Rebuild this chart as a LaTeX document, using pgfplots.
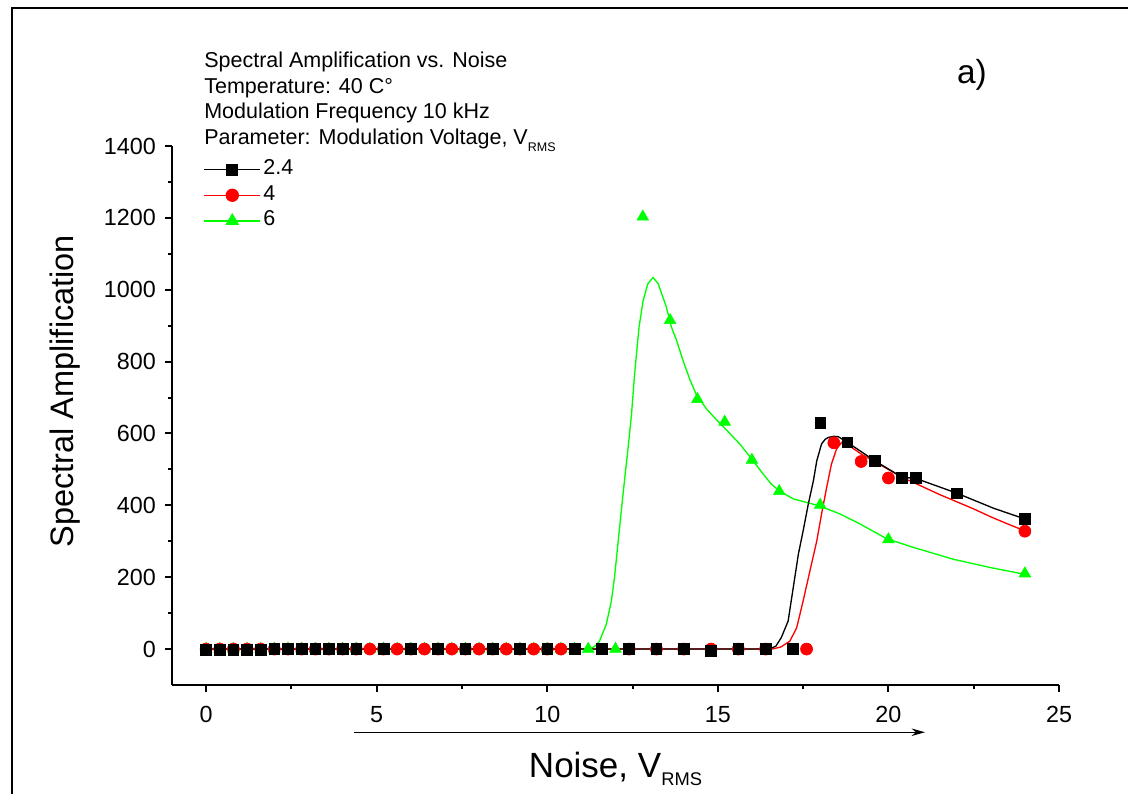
\documentclass[border=0pt]{standalone}
\usepackage{fontspec}
\setmainfont{Liberation Sans}
\usepackage{pgfplots}
\pgfplotsset{compat=1.18}
\usetikzlibrary{arrows.meta}
\definecolor{pgreen}{RGB}{0,255,0}
\definecolor{pred}{RGB}{255,0,0}
\begin{document}
\begin{tikzpicture}
\useasboundingbox (0pt,0pt) rectangle (676.8pt,476.4pt);
\draw[line width=1.2pt] (7.2pt,0pt) -- (7.2pt,471.6pt) -- (676.8pt,471.6pt);
\begin{axis}[
  at={(103.2pt,65.4pt)}, anchor=south west,
  scale only axis, width=532.2pt, height=323.4pt,
  xmin=-1, xmax=25, ymin=-100, ymax=1400,
  axis lines*=left,
  axis line style={line width=1.2pt},
  xtick={0,5,...,25}, minor x tick num=1,
  ytick={0,200,...,1400}, minor y tick num=1,
  tick align=outside,
  major tick length=4.2pt, minor tick length=2.4pt,
  every tick/.style={line width=1.2pt, black},
  /pgf/number format/assume math mode=true,
  /pgf/number format/1000 sep={},
  ticklabel style={font=\fontsize{14}{16}\selectfont},
  xticklabel style={yshift=-5pt},
  yticklabel style={xshift=-2pt},
  clip=false,
  xlabel={Noise, V\raisebox{-0.45ex}{\fontsize{11}{12}\selectfont RMS}},
  xlabel style={font=\fontsize{21}{24}\selectfont, at={(axis description cs:0.5,-0.1707)}, anchor=base},
  ylabel={Spectral Amplification},
  ylabel style={font=\fontsize{19.5}{22}\selectfont, at={(axis description cs:-0.1116,0.545)}, anchor=base},
  legend image code/.code={\draw[mark repeat=2,mark phase=2,#1] plot coordinates {(0pt,0pt) (16.8pt,0pt) (33.6pt,0pt)};},
  legend style={draw=none, fill=none, at={(axis description cs:0.0353,0.980)}, anchor=north west,
    font=\fontsize{12.9}{15}\selectfont, inner sep=0pt, row sep=0.4pt,
    nodes={inner sep=1.5pt, text height=9pt, text depth=3pt}},
  legend cell align=left,
]
\addlegendimage{black, line width=0.8pt, mark=square*, mark size=3.2pt, mark options={solid}}
\addlegendimage{pred, line width=0.8pt, mark=*, mark size=3.6pt, mark options={solid, fill=pred}}
\addlegendimage{pgreen, line width=0.8pt, mark=triangle*, mark size=4pt, mark options={solid, fill=pgreen}}
\legend{2.4,4,6}
% fitted curves
\addplot[forget plot, pgreen, line width=0.8pt] coordinates {
(0,0)(11.24,0)(11.4,8)(11.53,22)(11.73,69)(11.88,134)(11.97,199)(12.07,292)(12.17,385)(12.27,475)(12.37,561)(12.47,654)(12.56,766)(12.69,896)(12.81,970)(12.95,1017)(13.1,1034)(13.25,1017)(13.49,952)(13.64,896)(13.79,859)(13.98,803)(14.18,750)(14.37,708)(14.67,668)(14.96,638)(15.25,610)(15.65,570)(16.0,528)(16.33,487)(16.55,461)(16.77,442)(17.21,418)(17.96,399)(18.58,376)(19.17,348)(19.95,307)(20.73,283)(21.9,250)(22.98,227)(24,208)};
\addplot[forget plot, pred, line width=0.8pt] coordinates {
(0,0)(16.6,0)(16.85,6)(17.11,22)(17.31,59)(17.5,134)(17.7,218)(17.9,301)(18.04,376)(18.19,450)(18.33,515)(18.48,557)(18.63,575)(18.77,571)(19.2,543)(19.6,521)(20.0,500)(20.4,478)(21.0,452)(21.5,430)(22.0,410)(22.5,390)(23.0,368)(23.5,348)(24.0,329)};
\addplot[forget plot, black, line width=0.8pt] coordinates {
(0,0)(16.5,0)(16.7,8)(16.86,32)(17.06,78)(17.21,171)(17.36,264)(17.5,329)(17.65,403)(17.8,468)(17.9,524)(18.04,571)(18.15,584)(18.24,589)(18.4,592)(18.53,591)(18.8,575)(19.6,524)(20.4,478)(20.8,475)(22.0,434)(23.08,392)(24,362)};
% measured points
\addplot[forget plot, only marks, mark=triangle*, mark size=4pt, draw=pgreen, fill=pgreen] coordinates {
(0,0)(0.4,0)(0.8,0)(1.2,0)(1.6,0)(2.0,0)(2.4,0)(2.8,0)(3.2,0)(3.6,0)(4.0,0)(4.4,0)(4.8,0)(5.2,0)(5.6,0)(6.0,0)(6.4,0)(6.8,0)(7.2,0)(7.6,0)(8.0,0)(8.4,0)(8.8,0)(9.2,0)(9.6,0)(10.0,0)(10.4,0)(10.8,0)(11.2,0)(12.0,0)(12.8,1203)(13.6,915)(14.4,695)(15.2,632)(16.0,526)(16.8,439)(18.0,401)(20.0,305)(24.0,210)};
\addplot[forget plot, only marks, mark=*, mark size=3.6pt, draw=pred, fill=pred] coordinates {
(0,0)(0.4,0)(0.8,0)(1.2,0)(1.6,0)(2.0,0)(2.4,0)(2.8,0)(3.2,0)(3.6,0)(4.0,0)(4.4,0)(4.8,0)(5.2,0)(5.6,0)(6.0,0)(6.4,0)(6.8,0)(7.2,0)(7.6,0)(8.0,0)(8.4,0)(8.8,0)(9.2,0)(9.6,0)(10.0,0)(10.4,0)(12.4,0)(13.2,0)(14.0,0)(14.8,0)(15.6,0)(16.4,0)(17.6,0)(18.4,574)(19.2,522)(20.0,476)(24.0,328)};
\addplot[forget plot, only marks, mark=square*, mark size=3.2pt, draw=black, fill=black] coordinates {
(0,-3)(0.4,-3)(0.8,-3)(1.2,-3)(1.6,-3)(2.0,0)(2.4,0)(2.8,0)(3.2,0)(3.6,0)(4.0,0)(4.4,0)(5.2,0)(6.0,0)(6.8,0)(7.6,0)(8.4,0)(9.2,0)(10.0,0)(10.8,0)(11.6,0)(12.4,0)(13.2,0)(14.0,0)(14.8,-5)(15.6,0)(16.4,0)(17.2,0)(18.0,629)(18.8,575)(19.6,523)(20.4,477)(20.8,477)(22.0,433)(24.0,362)};
\draw[line width=0.7pt, -{Stealth[length=8pt, width=4.5pt]}] (axis cs:4.344,-231.5) -- (axis cs:21.07,-231.5);
\end{axis}
\node[anchor=base west, font=\fontsize{12.9}{15}\selectfont, inner sep=0pt] at (122.4pt,436.0pt) {Spectral Amplification vs. Noise};
\node[anchor=base west, font=\fontsize{12.9}{15}\selectfont, inner sep=0pt] at (122.4pt,420.4pt) {Temperature: 40 C°};
\node[anchor=base west, font=\fontsize{12.9}{15}\selectfont, inner sep=0pt] at (122.4pt,405.0pt) {Modulation Frequency 10 kHz};
\node[anchor=base west, font=\fontsize{12.9}{15}\selectfont, inner sep=0pt] at (122.4pt,389.4pt) {Parameter: Modulation Voltage, V\raisebox{-0.55ex}{\fontsize{7.5}{8}\selectfont RMS}};
\node[anchor=base, font=\fontsize{20}{24}\selectfont, inner sep=0pt] at (583.2pt,426pt) {a)};
\end{tikzpicture}
\end{document}
